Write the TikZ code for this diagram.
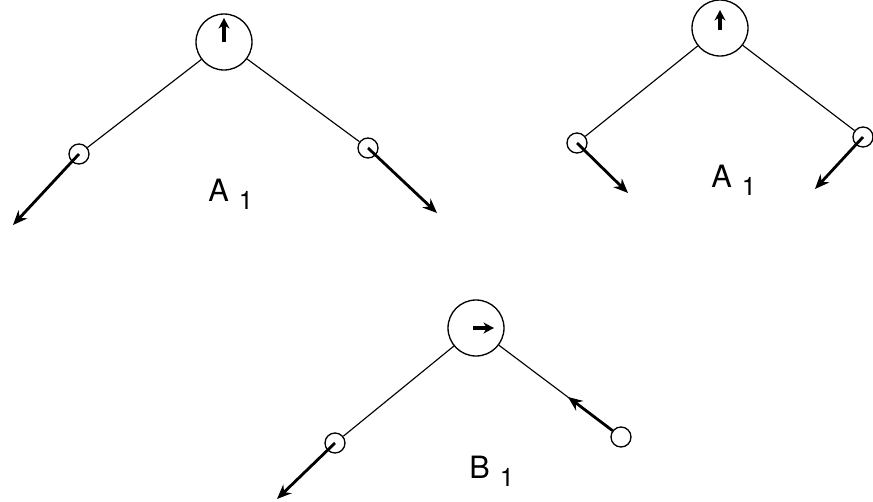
\documentclass[tikz,border=0pt]{standalone}
\usepackage{fontspec}
\setmainfont{TeX Gyre Heros}
\usetikzlibrary{arrows.meta}
\tikzset{
  hub/.style={draw, circle, minimum size=11.2mm, inner sep=0pt, line width=0.75pt},
  site/.style={draw, circle, minimum size=4mm, inner sep=0pt, line width=0.75pt},
  bond/.style={line width=0.65pt},
  spin/.style={-{Stealth[length=2.9mm, width=2.4mm]}, line width=1.6pt},
  pin/.style={-{Stealth[length=2.1mm, width=2.2mm]}, line width=2pt},
  tag/.style={font=\fontsize{17.5}{20}\selectfont, inner sep=0pt, anchor=base west}
}
\newcommand{\sitelabel}[2]{#1\hspace{0.2cm}\raisebox{-5pt}{\fontsize{14.5}{16}\selectfont #2}}

\begin{document}
\begin{tikzpicture}[x=0.02cm, y=-0.02cm]
  \useasboundingbox (0,0) rectangle (873,501);

  \node[hub] (ta) at (224,42) {};
  \node[site] (la) at (79,154) {};
  \node[site] (ra) at (368,148) {};
  \coordinate (lat) at (13,225);
  \coordinate (rat) at (437,213);
  \coordinate (tat) at (224,18);
  \draw[bond] (ta) -- (la); \draw[bond] (ta) -- (ra);
  \draw[pin] (ta.center) -- (tat);
  \draw[spin] (la.center) -- (lat);
  \draw[spin] (ra.center) -- (rat);
  \node[tag] (na) at (208,201) {\sitelabel{A}{1}};

  \node[hub] (tb) at (720,28) {};
  \node[site] (lb) at (577,143) {};
  \node[site] (rb) at (863,137) {};
  \coordinate (lbt) at (628,193);
  \coordinate (rbt) at (815,189);
  \coordinate (tbt) at (720,10);
  \draw[bond] (tb) -- (lb); \draw[bond] (tb) -- (rb);
  \draw[pin] ([yshift=-0.04cm]tb.center) -- (tbt);
  \draw[spin] (lb.center) -- (lbt);
  \draw[spin] (rb.center) -- (rbt);
  \node[tag] (nb) at (711,187) {\sitelabel{A}{1}};

  \node[hub] (tc) at (476,328) {};
  \node[site] (lc) at (335,443) {};
  \node[site] (rc) at (621,437) {};
  \coordinate (lct) at (277,499);
  \coordinate (rct) at (568,397);
  \coordinate (tct) at (494,328);
  \draw[bond] (tc) -- (lc); \draw[bond] (tc) -- (rc);
  \draw[pin] ([xshift=-0.06cm]tc.center) -- (tct);
  \draw[spin] (lc.center) -- (lct);
  \draw[spin] (rc) -- (rct);
  \node[tag] (nc) at (469,478) {\sitelabel{B}{1}};
\end{tikzpicture}
\end{document}
